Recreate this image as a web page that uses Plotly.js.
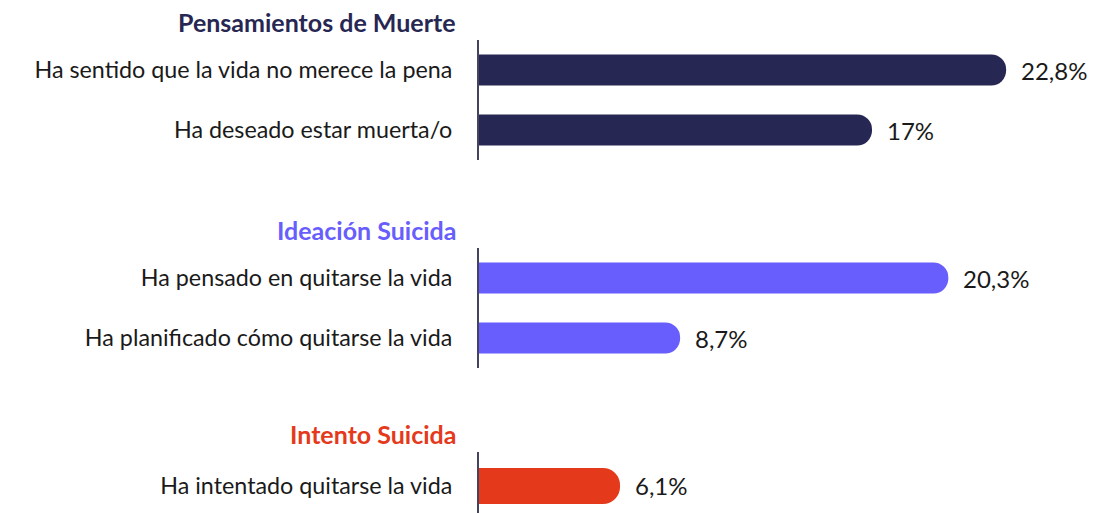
<!DOCTYPE html>
<html>
<head>
<meta charset="utf-8">
<script src="https://cdn.plot.ly/plotly-3.0.1.min.js"></script>
<style>html,body{margin:0;padding:0;background:#fff}#chart{width:1093px;height:513px}</style>
</head>
<body>
<div id="chart"></div>
<script>
// Data
const groupTitles = ["Pensamientos de Muerte", "Ideación Suicida", "Intento Suicida"];
const groupColors = ["#272753", "#685DFD", "#E5391B"];
const cats1 = ["Ha sentido que la vida no merece la pena", "Ha deseado estar muerta/o"];
const vals1 = [22.8, 17];
const labels1 = ["22,8%", "17%"];
const cats2 = ["Ha pensado en quitarse la vida", "Ha planificado cómo quitarse la vida"];
const vals2 = [20.3, 8.7];
const labels2 = ["20,3%", "8,7%"];
const cats3 = ["Ha intentado quitarse la vida"];
const vals3 = [6.1];
const labels3 = ["6,1%"];

const FONT = "Lato, 'Open Sans', sans-serif";
const H = 513;
const groups = [
  {cats: cats1, vals: vals1, labels: labels1, yref: "y", px: [40, 160], width: 0.52, titlePx: 22},
  {cats: cats2, vals: vals2, labels: labels2, yref: "y2", px: [248, 368], width: 0.52, titlePx: 230},
  {cats: cats3, vals: vals3, labels: labels3, yref: "y3", px: [452, 513], width: 0.59, titlePx: 434}
];

const traces = [];
const annotations = [];
const layout = {
  width: 1093, height: 513,
  margin: {l: 479, r: 36, t: 0, b: 0, pad: 0},
  paper_bgcolor: "#ffffff", plot_bgcolor: "#ffffff",
  showlegend: false,
  font: {family: FONT, size: 23, color: "#1a1a1a"},
  xaxis: {range: [0, 25], visible: false, showgrid: false, zeroline: false, fixedrange: true},
  annotations: annotations
};

groups.forEach((g, i) => {
  traces.push({
    type: "bar", orientation: "h",
    x: g.vals, y: g.cats,
    xaxis: "x", yaxis: g.yref,
    width: g.width,
    marker: {color: groupColors[i], cornerradius: "50%"},
    hoverinfo: "skip"
  });
  const axName = g.yref === "y" ? "yaxis" : "yaxis" + g.yref.slice(1);
  const ax = {
    domain: [1 - g.px[1] / H, 1 - g.px[0] / H],
    anchor: "x",
    type: "category",
    showline: true, linecolor: "#44445f", linewidth: 2,
    showgrid: false, zeroline: false,
    ticks: "", ticklabelstandoff: 20,
    tickfont: {family: FONT, size: 23.3, color: "#1a1a1a"},
    fixedrange: true
  };
  if (g.cats.length > 1) {
    ax.range = [g.cats.length - 0.5, -0.5];
  } else {
    ax.range = [-0.443, 0.557];
  }
  layout[axName] = ax;
  g.vals.forEach((v, j) => {
    annotations.push({
      xref: "x", yref: g.yref, x: v, y: g.cats[j],
      text: g.labels[j], showarrow: false,
      xanchor: "left", yanchor: "middle", xshift: 13,
      font: {family: FONT, size: 24, color: "#1a1a1a"}
    });
  });
  annotations.push({
    xref: "paper", yref: "paper", x: 0, y: 1 - g.titlePx / H,
    xshift: -21, xanchor: "right", yanchor: "middle",
    text: "<b>" + groupTitles[i] + "</b>", showarrow: false,
    font: {family: FONT, size: 25, color: groupColors[i]}
  });
});

Plotly.newPlot("chart", traces, layout, {displayModeBar: false, staticPlot: true});
</script>
</body>
</html>
